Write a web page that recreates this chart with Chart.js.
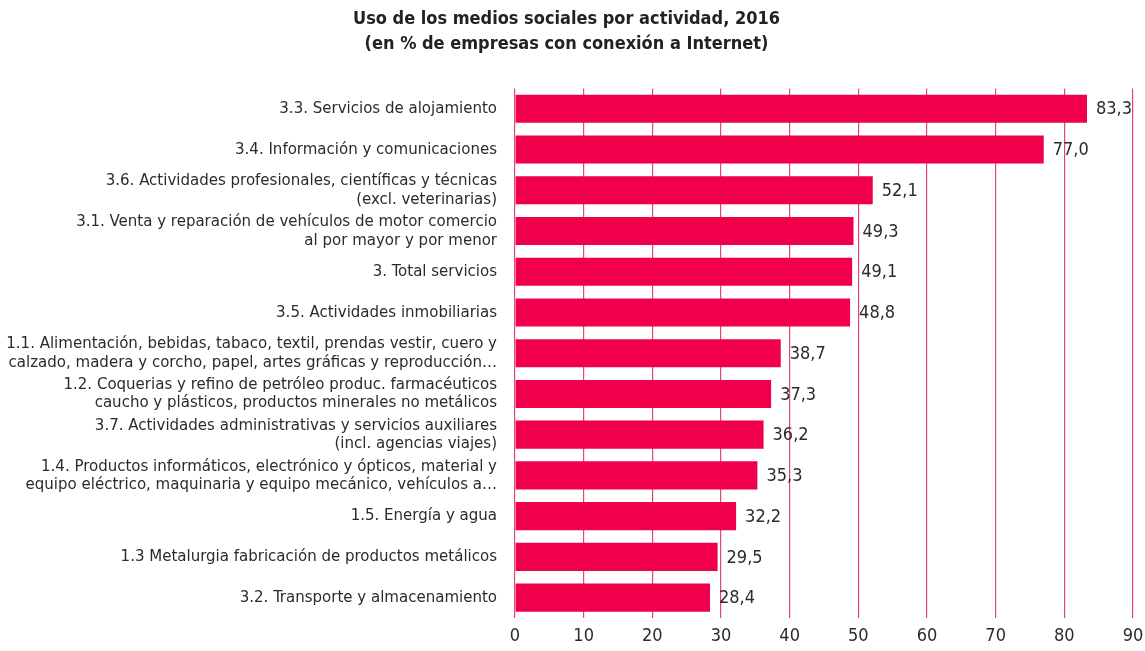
<!DOCTYPE html>
<html>
<head>
<meta charset="utf-8">
<script src="https://cdn.jsdelivr.net/npm/chart.js@4"></script>
<style>
  html, body { margin: 0; padding: 0; background: #fff; }
  #wrap { width: 1145px; height: 651px; }
</style>
</head>
<body>
<div id="wrap"><canvas id="chart"></canvas></div>
<script>
// Actividades (multi-line labels as arrays)
const categories = [
  "3.3. Servicios de alojamiento",
  "3.4. Información y comunicaciones",
  ["3.6. Actividades profesionales, científicas y técnicas", "(excl. veterinarias)"],
  ["3.1. Venta y reparación de vehículos de motor comercio", "al por mayor y por menor"],
  "3. Total servicios",
  "3.5. Actividades inmobiliarias",
  ["1.1. Alimentación, bebidas, tabaco, textil, prendas vestir, cuero y", "calzado, madera y corcho, papel, artes gráficas y reproducción…"],
  ["1.2. Coquerias y refino de petróleo produc. farmacéuticos", "caucho y plásticos, productos minerales no metálicos"],
  ["3.7. Actividades administrativas y servicios auxiliares", "(incl. agencias viajes)"],
  ["1.4. Productos informáticos, electrónico y ópticos, material y", "equipo eléctrico, maquinaria y equipo mecánico, vehículos a…"],
  "1.5. Energía y agua",
  "1.3 Metalurgia fabricación de productos metálicos",
  "3.2. Transporte y almacenamiento",
]

// % de empresas con conexión a Internet
const values = [83.3, 77.0, 52.1, 49.3, 49.1, 48.8, 38.7, 37.3, 36.2, 35.3, 32.2, 29.5, 28.4]

// x-axis ticks
const xMin = 0
const xMax = 90
const xStep = 10

const FONT = "'DejaVu Sans Condensed', 'DejaVu Sans', sans-serif"
const barColor = "#F0004A"
const gridColor = "#E4457A"
const textColor = "#2b2b2b"

// draws the value next to each bar
const valueLabels = {
  id: "valueLabels",
  afterDatasetsDraw(chart) {
    const ctx = chart.ctx
    const meta = chart.getDatasetMeta(0)
    ctx.save()
    ctx.font = "18px " + FONT
    ctx.fillStyle = textColor
    ctx.textAlign = "left"
    ctx.textBaseline = "middle"
    meta.data.forEach((bar, i) => {
      const txt = values[i].toFixed(1).replace(".", ",")
      ctx.fillText(txt, bar.x + 9, bar.y + 1)
    })
    ctx.restore()
  },
}

new Chart(document.getElementById("chart"), {
  type: "bar",
  data: {
    labels: categories,
    datasets: [
      {
        data: values,
        backgroundColor: barColor,
        borderWidth: 0,
        barPercentage: 0.69,
        categoryPercentage: 1,
      },
    ],
  },
  options: {
    indexAxis: "y",
    responsive: true,
    maintainAspectRatio: false,
    animation: false,
    layout: {
      padding: { left: 0, right: 12, top: 0, bottom: 0 },
    },
    plugins: {
      legend: { display: false },
      tooltip: { enabled: false },
      title: {
        display: true,
        text: ["Uso de los medios sociales por actividad, 2016", "(en % de empresas con conexión a Internet)"],
        color: "#222",
        font: { family: FONT, size: 18, weight: "bold", lineHeight: 1.4 },
        padding: { top: 7, bottom: 31 },
      },
    },
    scales: {
      x: {
        min: xMin,
        max: xMax,
        grid: {
          color: gridColor,
          lineWidth: 1.2,
          drawTicks: false,
        },
        border: { display: false },
        ticks: {
          stepSize: xStep,
          color: textColor,
          padding: 8,
          font: { family: FONT, size: 18 },
        },
        afterFit(scale) {
          scale.height = 33
          scale.paddingLeft = 0
          scale.paddingRight = 0
        },
      },
      y: {
        grid: { display: false, drawTicks: false },
        border: { display: false },
        ticks: {
          color: textColor,
          padding: 18,
          font: { family: FONT, size: 16.7, lineHeight: 1.1 },
        },
        afterFit(scale) {
          scale.width = 515
        },
      },
    },
  },
  plugins: [valueLabels],
})
</script>
</body>
</html>
